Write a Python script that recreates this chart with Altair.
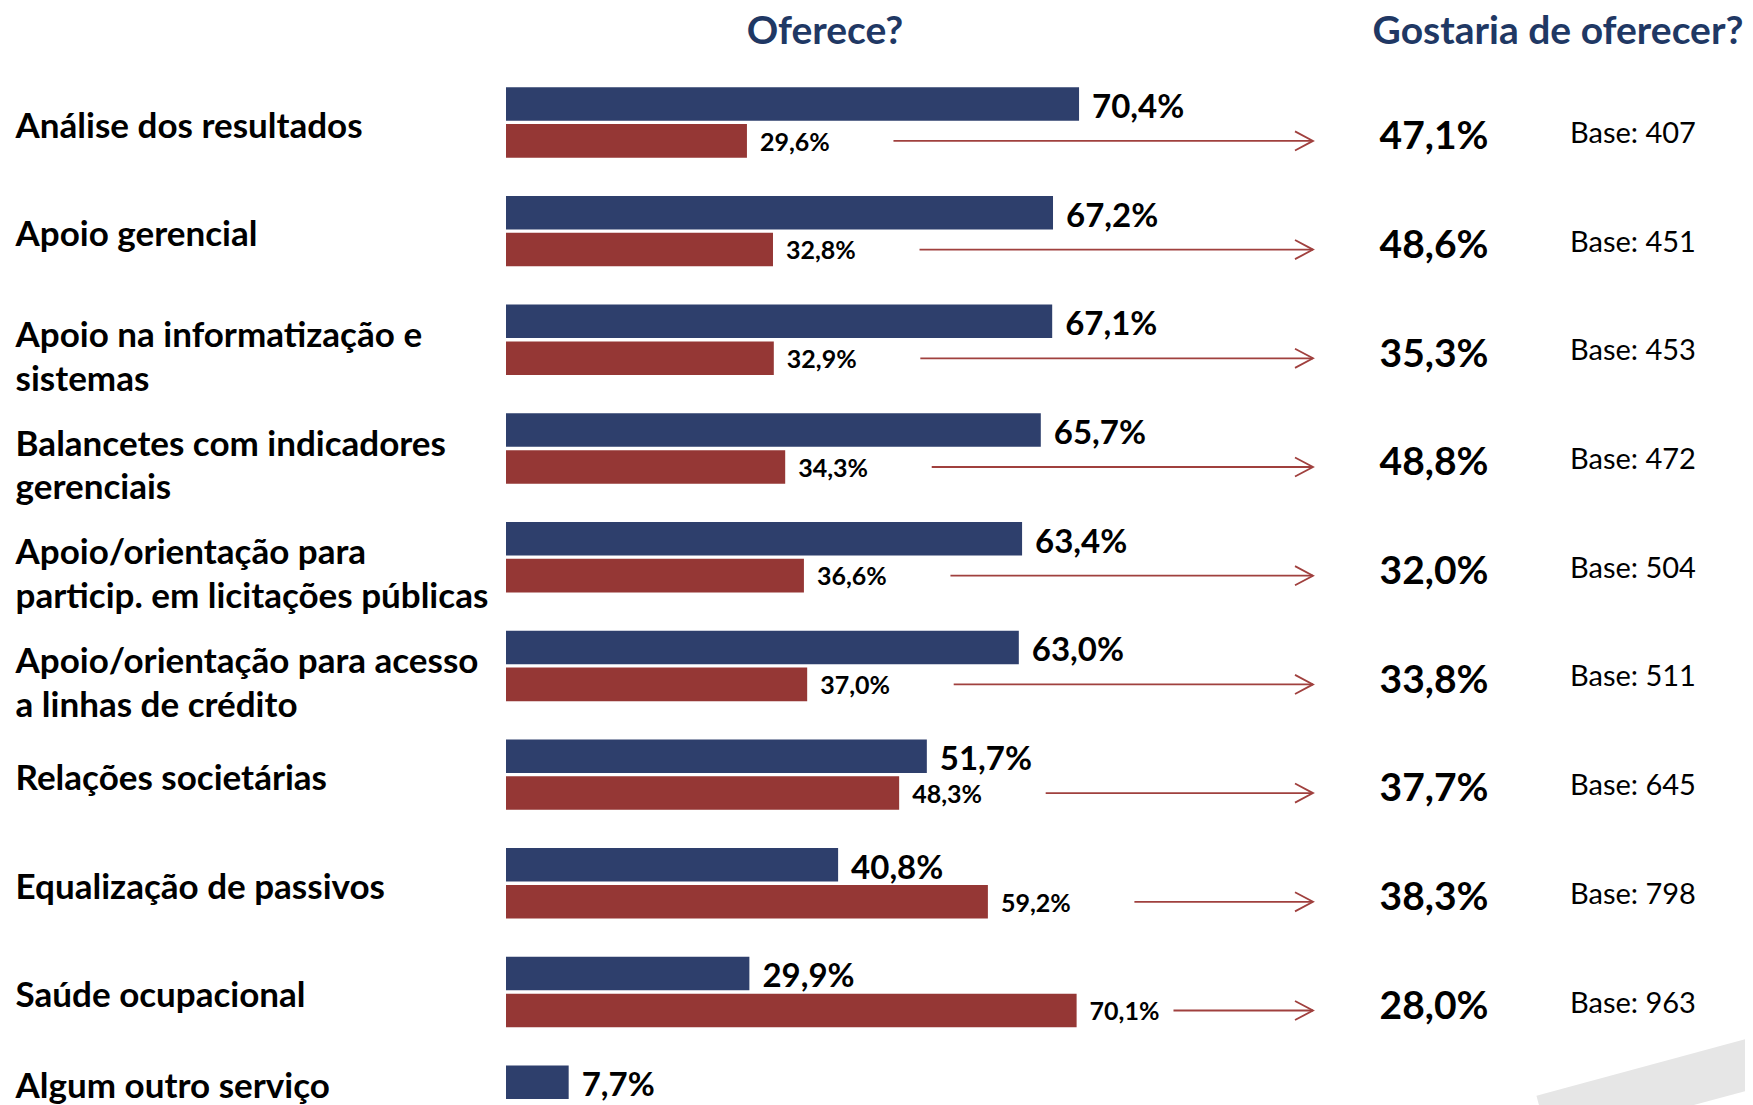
import altair as alt
import pandas as pd
import numpy as np

# ---------------- data ----------------
categorias = [
    "Análise dos resultados",
    "Apoio gerencial",
    "Apoio na informatização e\nsistemas",
    "Balancetes com indicadores\ngerenciais",
    "Apoio/orientação para\nparticip. em licitações públicas",
    "Apoio/orientação para acesso\na linhas de crédito",
    "Relações societárias",
    "Equalização de passivos",
    "Saúde ocupacional",
    "Algum outro serviço",
]
oferece_sim = [70.4, 67.2, 67.1, 65.7, 63.4, 63.0, 51.7, 40.8, 29.9, 7.7]
oferece_nao = [29.6, 32.8, 32.9, 34.3, 36.6, 37.0, 48.3, 59.2, 70.1, None]
gostaria = [47.1, 48.6, 35.3, 48.8, 32.0, 33.8, 37.7, 38.3, 28.0, None]
bases = [407, 451, 453, 472, 504, 511, 645, 798, 963, None]
titulos = ["Oferece?", "Gostaria de oferecer?"]

# ---------------- style ----------------
BLUE = "#2E3F6C"
RED = "#953735"
ARROW = "#A0403E"
TITLE = "#1F3864"
FONT = "Lato"

W, H = 1737, 1097
PX_PER_PCT = 8.14
X0 = 498.0               # chart x of 0 %
ROW_STEP = 108.7
ROW0 = 79.2               # chart y of first row top
LINE_H = 43.6

XMIN = -X0 / PX_PER_PCT
XMAX = (W - X0) / PX_PER_PCT
YMIN = -ROW0 / ROW_STEP
YMAX = (H - ROW0) / ROW_STEP

xs = alt.Scale(domain=[XMIN, XMAX], nice=False, zero=False)
ys = alt.Scale(domain=[YMIN, YMAX], nice=False, zero=False, reverse=True)


def fmt(v):
    return f"{v:.1f}%".replace(".", ",")


n = len(categorias)
df = pd.DataFrame({
    "cat": categorias,
    "row": np.arange(n, dtype=float),
    "sim": oferece_sim,
    "nao": pd.to_numeric(pd.Series(oferece_nao), errors="coerce"),
    "gost": pd.to_numeric(pd.Series(gostaria), errors="coerce"),
    "base": pd.to_numeric(pd.Series(bases), errors="coerce"),
})
df["zero"] = 0.0
df["b_top"] = df.row
df["b_bot"] = df.row + 0.308
df["b_mid"] = df.row + 0.19
df["r_top"] = df.row + 0.339
df["r_bot"] = df.row + 0.648
df["r_mid"] = df.row + 0.494
df["r_lbl"] = df.row + 0.51
# label block centred on the bars that are present (a bit lower for two-line labels);
# Vega puts the first line at y, so shift up by half the extra lines
has_red = df.nao.notna()
bars_mid = np.where(has_red, df.row + 0.324, df.row + 0.154)
extra = df.cat.str.count("\n")
df["lab_y"] = bars_mid + 0.04 + 0.125 * extra - extra * (LINE_H / ROW_STEP) / 2
df["pct_y"] = df.row + 0.46
df["base_y"] = df.row + 0.43
df["sim_lbl"] = df.sim.map(fmt)

dr = df.dropna(subset=["nao"]).copy()
dr["nao_lbl"] = dr.nao.map(fmt)
dr["gost_lbl"] = dr.gost.map(fmt)
dr["base_lbl"] = dr.base.map(lambda b: f"Base: {int(b)}")
dr["arr_start"] = np.minimum(dr.nao + 18.0, 82.0)
ARROW_END = 1305

base_chart = alt.Chart(df)

blue_bars = base_chart.mark_bar(color=BLUE).encode(
    x=alt.X("zero:Q", scale=xs, axis=None), x2="sim:Q",
    y=alt.Y("b_top:Q", scale=ys, axis=None), y2="b_bot:Q",
)
blue_lbl = base_chart.mark_text(align="left", baseline="middle", dx=13, font=FONT,
                                fontWeight="bold", fontSize=33, color="black").encode(
    x=alt.X("sim:Q", scale=xs, axis=None),
    y=alt.Y("b_mid:Q", scale=ys, axis=None),
    text="sim_lbl:N",
)

rc = alt.Chart(dr)
red_bars = rc.mark_bar(color=RED).encode(
    x=alt.X("zero:Q", scale=xs, axis=None), x2="nao:Q",
    y=alt.Y("r_top:Q", scale=ys, axis=None), y2="r_bot:Q",
)
red_lbl = rc.mark_text(align="left", baseline="middle", dx=13, font=FONT,
                       fontWeight="bold", fontSize=25, color="black").encode(
    x=alt.X("nao:Q", scale=xs, axis=None),
    y=alt.Y("r_lbl:Q", scale=ys, axis=None),
    text="nao_lbl:N",
)
shaft = rc.mark_rule(color=ARROW, strokeWidth=1.8).encode(
    x=alt.X("arr_start:Q", scale=xs, axis=None),
    x2=alt.value(ARROW_END),
    y=alt.Y("r_mid:Q", scale=ys, axis=None),
)
head = rc.mark_point(shape="M-1,-0.53L0,0L-1,0.53", size=1296, filled=False,
                     stroke=ARROW, strokeWidth=1.8, opacity=1).encode(
    x=alt.value(ARROW_END),
    y=alt.Y("r_mid:Q", scale=ys, axis=None),
)
pct = rc.mark_text(align="center", baseline="middle", font=FONT, fontWeight="bold",
                   fontSize=39, color="black").encode(
    x=alt.value(1426),
    y=alt.Y("pct_y:Q", scale=ys, axis=None),
    text="gost_lbl:N",
)
base_txt = rc.mark_text(align="left", baseline="middle", font=FONT,
                        fontSize=29, color="black").encode(
    x=alt.value(1562),
    y=alt.Y("base_y:Q", scale=ys, axis=None),
    text="base_lbl:N",
)

cat_lbl = base_chart.mark_text(align="left", baseline="middle", font=FONT,
                               fontWeight="bold", fontSize=35, color="black",
                               lineBreak="\n", lineHeight=LINE_H).encode(
    x=alt.value(7.6),
    y=alt.Y("lab_y:Q", scale=ys, axis=None),
    text="cat:N",
)

tdf = pd.DataFrame({"t": titulos, "k": [0, 1]})
title1 = alt.Chart(tdf).transform_filter("datum.k == 0").mark_text(
    align="center", baseline="middle", font=FONT, fontWeight="bold",
    fontSize=39, color=TITLE).encode(x=alt.value(817), y=alt.value(24), text="t:N")
title2 = alt.Chart(tdf).transform_filter("datum.k == 1").mark_text(
    align="center", baseline="middle", font=FONT, fontWeight="bold",
    fontSize=39, color=TITLE).encode(x=alt.value(1550), y=alt.value(24), text="t:N")

wm = alt.Chart(pd.DataFrame({"a": [0]})).mark_rule(
    color="#E6E6E6", strokeWidth=50).encode(
    x=alt.value(1535), x2=alt.value(1760), y=alt.value(1112), y2=alt.value(1051))

chart = alt.layer(
    wm, blue_bars, red_bars, blue_lbl, red_lbl, shaft, head, pct, base_txt,
    cat_lbl, title1, title2,
).properties(
    width=W, height=H, padding=0, autosize=alt.AutoSizeParams(type="none"),
    background="white",
).configure_view(stroke=None)

chart.save("out.html", embed_options={"renderer": "svg", "actions": False})
